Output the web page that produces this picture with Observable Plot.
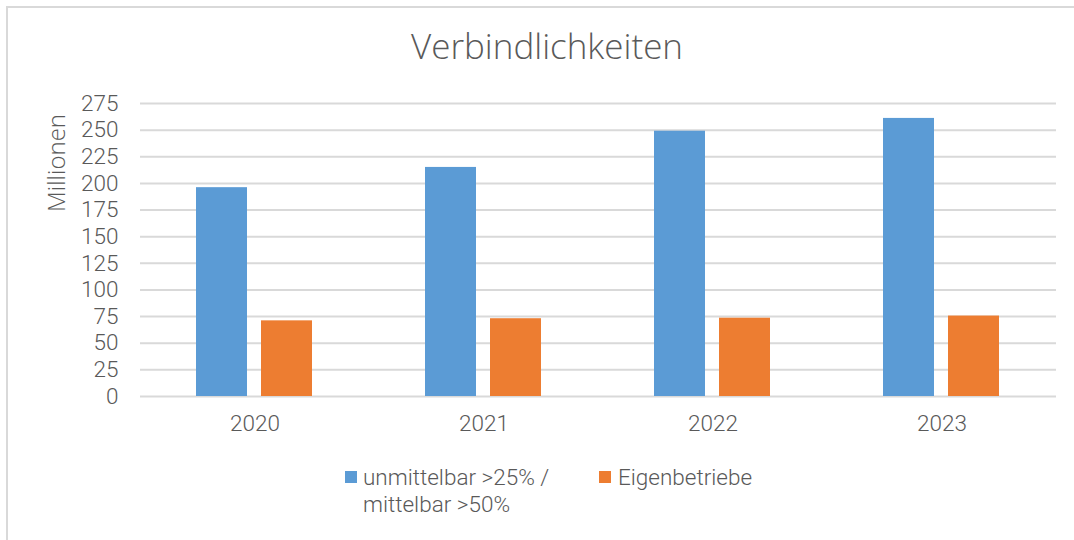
<!DOCTYPE html>
<html>
<head>
<meta charset="utf-8">
<script src="https://cdn.jsdelivr.net/npm/d3@7"></script>
<script src="https://cdn.jsdelivr.net/npm/@observablehq/plot@0.6"></script>
<style>
  html, body { margin: 0; padding: 0; background: #fff; }
  #wrap { position: relative; width: 1074px; height: 540px; overflow: hidden; font-family: "Open Sans", sans-serif; font-weight: 300; color: #595959; }
  #frame { position: absolute; left: 6px; top: 6px; width: 1080px; height: 560px; border: 2px solid #d9d9d9; box-sizing: border-box; }
  #title { position: absolute; left: 0; width: 1094px; top: 22px; text-align: center; font-size: 35px; font-weight: 300; color: #595959; line-height: 48px; }
  #ylabel { position: absolute; left: 55px; top: 163px; transform: translate(-50%, -50%) rotate(-90deg); font-size: 24px; white-space: nowrap; }
  #chart { position: absolute; left: 0; top: 0; }
  .leg { position: absolute; font-family: Roboto, sans-serif; font-weight: 300; font-size: 22.5px; line-height: 26px; color: #595959; white-space: nowrap; }
  .sw { position: absolute; width: 12px; height: 12px; }
</style>
</head>
<body>
<div id="wrap">
  <div id="frame"></div>
  <div id="chart"></div>
  <div id="title"></div>
  <div id="ylabel"></div>
  <div id="legend"></div>
</div>
<script>
const years = ["2020", "2021", "2022", "2023"];
const seriesNames = ["unmittelbar >25% / mittelbar >50%", "Eigenbetriebe"];
const seriesColors = ["#5b9bd5", "#ed7d31"];
const direkt = [196, 215, 249, 261];
const eigen = [71, 73, 73.5, 75.5];
const yTicks = [0, 25, 50, 75, 100, 125, 150, 175, 200, 225, 250, 275];
const titleText = "Verbindlichkeiten";
const yLabelText = "Millionen";

const data = [];
years.forEach((yr, i) => {
  data.push({year: yr, series: seriesNames[0], value: direkt[i]});
  data.push({year: yr, series: seriesNames[1], value: eigen[i]});
});

const chart = Plot.plot({
  width: 1074,
  height: 440,
  marginLeft: 140,
  marginRight: 18,
  marginTop: 103,
  marginBottom: 44,
  style: {fontFamily: "Roboto, sans-serif", fontWeight: 300, fontSize: "22px", color: "#595959", background: "transparent", overflow: "visible"},
  fx: {domain: years, padding: 0, label: null, axis: null},
  x: {domain: seriesNames, paddingInner: 0.215, paddingOuter: 0.869, axis: null},
  y: {domain: [0, 275], label: null},
  color: {domain: seriesNames, range: seriesColors},
  marks: [
    Plot.gridY(yTicks, {stroke: "#d9d9d9", strokeOpacity: 1, strokeWidth: 2}),
    Plot.barY(data, {fx: "year", x: "series", y: "value", fill: "series"}),
    Plot.axisY(yTicks, {tickSize: 0, tickPadding: 22, label: null, fontSize: 22.5, fill: "#595959"}),
    Plot.axisFx({anchor: "bottom", tickSize: 0, tickPadding: 19, label: null, fontSize: 22.5, fill: "#595959"})
  ]
});
document.getElementById("chart").appendChild(chart);
document.getElementById("title").textContent = titleText;
document.getElementById("ylabel").textContent = yLabelText;

const legend = document.getElementById("legend");
const legPos = [{sx: 345, tx: 363, parts: ["unmittelbar >25% /", "mittelbar >50%"]}, {sx: 599, tx: 618, parts: ["Eigenbetriebe"]}];
legPos.forEach((p, i) => {
  const sw = document.createElement("div");
  sw.className = "sw";
  sw.style.left = p.sx + "px";
  sw.style.top = "471px";
  sw.style.background = seriesColors[i];
  legend.appendChild(sw);
  p.parts.forEach((line, j) => {
    const t = document.createElement("div");
    t.className = "leg";
    t.style.left = p.tx + "px";
    t.style.top = (464 + j * 27) + "px";
    t.textContent = line;
    legend.appendChild(t);
  });
});
</script>
</body>
</html>
